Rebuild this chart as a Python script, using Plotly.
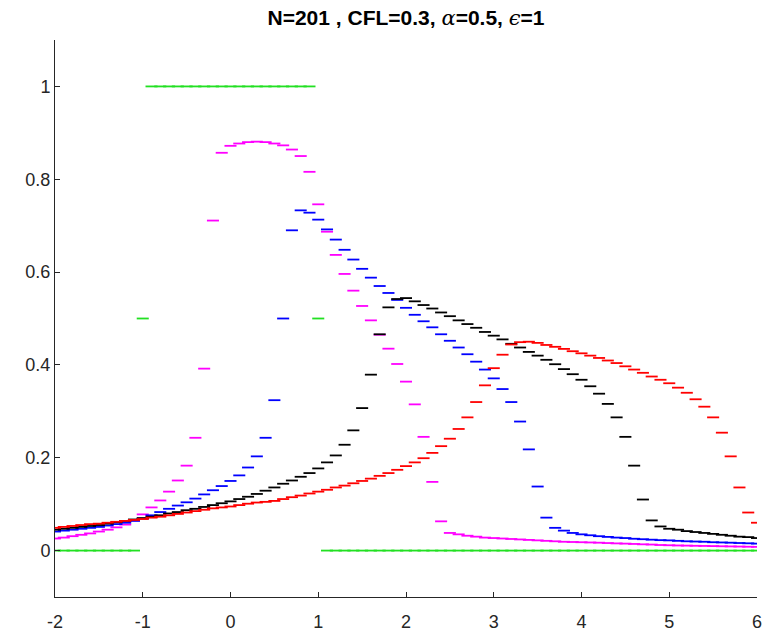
import plotly.graph_objects as go

# cell centres (dx = 0.1) shown on the window [-2, 6]
x = [round(-2 + 0.1 * i, 1) for i in range(81)]

initial = [0, 0, 0, 0, 0, 0, 0, 0, 0, 0,
           0.5, 1, 1, 1, 1, 1, 1, 1, 1, 1,
           1, 1, 1, 1, 1, 1, 1, 1, 1, 1,
           0.5, 0, 0, 0, 0, 0, 0, 0, 0, 0,
           0, 0, 0, 0, 0, 0, 0, 0, 0, 0,
           0, 0, 0, 0, 0, 0, 0, 0, 0, 0,
           0, 0, 0, 0, 0, 0, 0, 0, 0, 0,
           0, 0, 0, 0, 0, 0, 0, 0, 0, 0,
           0]

magenta = [0.026, 0.028, 0.031, 0.034, 0.037, 0.041, 0.045, 0.050, 0.056, 0.065,
           0.078, 0.093, 0.108, 0.127, 0.151, 0.183, 0.243, 0.392, 0.711, 0.857,
           0.872, 0.877, 0.880, 0.881, 0.880, 0.877, 0.873, 0.864, 0.850, 0.816,
           0.746, 0.687, 0.637, 0.596, 0.560, 0.527, 0.496, 0.465, 0.435, 0.402,
           0.364, 0.315, 0.245, 0.148, 0.063, 0.038, 0.035, 0.032, 0.030, 0.028,
           0.027, 0.026, 0.025, 0.024, 0.023, 0.022, 0.021, 0.020, 0.019, 0.0185,
           0.018, 0.0175, 0.017, 0.0162, 0.0155, 0.015, 0.0143, 0.0135, 0.013, 0.012,
           0.0115, 0.011, 0.0107, 0.0103, 0.010, 0.0097, 0.0093, 0.009, 0.0087, 0.0083,
           0.008]

blue = [0.041, 0.043, 0.045, 0.047, 0.049, 0.051, 0.054, 0.057, 0.060, 0.064,
        0.069, 0.076, 0.083, 0.090, 0.097, 0.104, 0.112, 0.121, 0.130, 0.139,
        0.150, 0.162, 0.179, 0.203, 0.243, 0.324, 0.500, 0.690, 0.733, 0.728,
        0.713, 0.692, 0.670, 0.648, 0.627, 0.607, 0.588, 0.570, 0.555, 0.540,
        0.523, 0.508, 0.494, 0.481, 0.466, 0.452, 0.4375, 0.423, 0.407, 0.390,
        0.371, 0.348, 0.320, 0.278, 0.218, 0.138, 0.071, 0.049, 0.043, 0.038,
        0.035, 0.033, 0.031, 0.0295, 0.028, 0.027, 0.0255, 0.0245, 0.0235, 0.0225,
        0.022, 0.021, 0.020, 0.0195, 0.019, 0.018, 0.0175, 0.017, 0.0163, 0.0157,
        0.015]

black = [0.045, 0.047, 0.049, 0.051, 0.053, 0.055, 0.058, 0.061, 0.064, 0.067,
         0.070, 0.073, 0.076, 0.080, 0.083, 0.087, 0.090, 0.094, 0.098, 0.102,
         0.106, 0.111, 0.116, 0.122, 0.129, 0.136, 0.144, 0.151, 0.159, 0.167,
         0.177, 0.190, 0.205, 0.228, 0.259, 0.307, 0.379, 0.466, 0.524, 0.542,
         0.544, 0.537, 0.529, 0.5215, 0.513, 0.505, 0.496, 0.488, 0.480, 0.471,
         0.463, 0.455, 0.4455, 0.4375, 0.428, 0.420, 0.411, 0.4015, 0.391, 0.380,
         0.368, 0.354, 0.338, 0.316, 0.287, 0.245, 0.183, 0.110, 0.065, 0.052,
         0.047, 0.045, 0.042, 0.040, 0.038, 0.036, 0.034, 0.032, 0.030, 0.029,
         0.027]

red = [0.049, 0.051, 0.053, 0.055, 0.057, 0.058, 0.060, 0.062, 0.064, 0.066,
       0.068, 0.071, 0.073, 0.076, 0.079, 0.082, 0.085, 0.088, 0.091, 0.093,
       0.095, 0.098, 0.101, 0.1035, 0.105, 0.107, 0.111, 0.115, 0.1185, 0.123,
       0.127, 0.131, 0.136, 0.140, 0.145, 0.150, 0.155, 0.161, 0.167, 0.174,
       0.182, 0.190, 0.199, 0.2105, 0.225, 0.241, 0.262, 0.287, 0.320, 0.356,
       0.393, 0.422, 0.444, 0.449, 0.450, 0.4475, 0.443, 0.439, 0.4345, 0.4295,
       0.425, 0.420, 0.415, 0.4095, 0.404, 0.397, 0.390, 0.383, 0.375, 0.368,
       0.3605, 0.351, 0.340, 0.326, 0.310, 0.287, 0.254, 0.203, 0.136, 0.082,
       0.060]

x_ticks = [-2, -1, 0, 1, 2, 3, 4, 5, 6]
y_ticks = [0, 0.2, 0.4, 0.6, 0.8, 1]
y_tick_labels = ["0", "0.2", "0.4", "0.6", "0.8", "1"]

series = [
    ("initial", initial, "#22e022"),
    ("t1", magenta, "#ff00ff"),
    ("t2", blue, "#0000ff"),
    ("t3", black, "#000000"),
    ("t4", red, "#ff0000"),
]

fig = go.Figure()
for name, vals, col in series:
    fig.add_trace(go.Scatter(
        x=x, y=vals, mode="markers", name=name,
        marker=dict(symbol="line-ew", size=8.6, color=col,
                    line=dict(color=col, width=1.8)),
        showlegend=False, hoverinfo="skip"))

axis_col = "#262626"
greek = "font-family:'DejaVu Serif';font-style:italic;font-weight:normal"
fig.update_layout(
    width=769, height=639,
    margin=dict(l=55, r=7, t=40, b=41),
    paper_bgcolor="white", plot_bgcolor="white",
    font=dict(family="Liberation Sans, Arial, sans-serif", size=18, color=axis_col),
    title=dict(
        text=f"<b>N=201 , CFL=0.3, </b><span style=\"{greek}\">α</span>"
             f"<b>=0.5, </b><span style=\"{greek}\">ϵ</span><b>=1</b>",
        x=0.5, xref="paper", xanchor="center",
        y=1 - 18 / 639, yref="container", yanchor="middle",
        font=dict(family="Liberation Sans, Arial, sans-serif", size=21, color="black")),
    xaxis=dict(range=[-2, 6], tickvals=x_ticks, ticktext=[str(v) for v in x_ticks],
               showgrid=False, zeroline=False, showline=True, linecolor=axis_col,
               linewidth=1, ticks="inside", ticklen=5, tickcolor=axis_col, mirror=False,
               ticklabelstandoff=8),
    yaxis=dict(range=[-0.1, 1.1], tickvals=y_ticks, ticktext=y_tick_labels,
               showgrid=False, zeroline=False, showline=True, linecolor=axis_col,
               linewidth=1, ticks="inside", ticklen=5, tickcolor=axis_col, mirror=False),
)

fig.write_html("out.html")
